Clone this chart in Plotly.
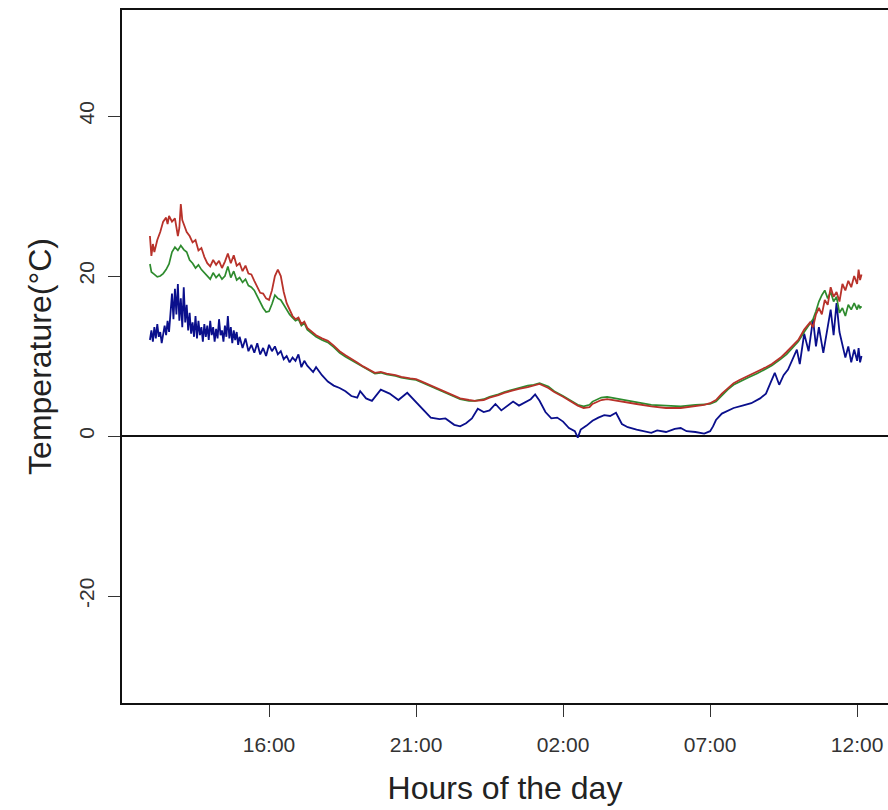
import plotly.graph_objects as go

# ---- Data (hours since midnight of day 1; values > 24 are the next day) ----
red_hours = [11.95, 12.0, 12.05, 12.1, 12.2, 12.3, 12.4, 12.5, 12.55, 12.6, 12.7, 12.8, 12.9, 12.95,
             13.0, 13.05, 13.1, 13.2, 13.3, 13.4, 13.5, 13.6, 13.7, 13.8, 13.9, 14.0, 14.1, 14.2,
             14.3, 14.4, 14.5, 14.6, 14.7, 14.8, 14.9, 15.0, 15.1, 15.2, 15.3, 15.4, 15.5, 15.6,
             15.7, 15.8, 15.9, 16.0, 16.1, 16.2, 16.3, 16.4, 16.5, 16.6, 16.7, 16.8, 16.9, 17.0,
             17.1, 17.2, 17.3, 17.4, 17.5, 17.6, 17.8, 18.0, 18.2, 18.4, 18.6, 18.8, 19.0, 19.2,
             19.4, 19.6, 19.8, 20.0, 20.3, 20.5, 20.8, 21.0, 21.2, 21.5, 21.8, 22.0, 22.3, 22.5,
             22.8, 23.0, 23.3, 23.5, 23.8, 24.0, 24.3, 24.5, 24.8, 25.0, 25.2, 25.5, 25.7, 26.0,
             26.3, 26.5, 26.7, 26.9, 27.0, 27.3, 27.5, 27.8, 28.0, 28.5, 29.0, 29.5, 30.0, 30.5,
             30.8, 31.0, 31.2, 31.4, 31.6, 31.8, 32.0, 32.3, 32.6, 32.9, 33.1, 33.4, 33.6, 33.8,
             34.0, 34.2, 34.4, 34.5, 34.6, 34.7, 34.8, 34.9, 35.0, 35.1, 35.2, 35.3, 35.4, 35.5,
             35.6, 35.7, 35.8, 35.9, 36.0, 36.05, 36.1, 36.15]
red_temp = [25.0, 22.5, 24.0, 23.0, 24.5, 25.5, 26.8, 27.3, 26.5, 27.5, 26.8, 27.2, 25.0, 26.0,
            29.0, 27.0, 26.5, 25.5, 25.0, 24.2, 24.5, 23.2, 23.5, 22.4, 21.6, 21.2, 22.0, 21.4,
            21.9, 21.0, 21.8, 22.8, 21.6, 22.6, 21.3, 21.6, 20.6, 21.3, 20.3, 20.2, 19.4, 18.6,
            17.9, 17.8, 17.2, 17.0, 18.2, 20.0, 20.8, 20.0, 18.0, 16.6, 15.8, 15.0, 14.6, 14.8,
            14.0, 14.3, 13.5, 13.2, 12.9, 12.6, 12.2, 11.9, 11.3, 10.6, 10.1, 9.7, 9.2, 8.7,
            8.3, 7.9, 8.0, 7.8, 7.6, 7.4, 7.2, 7.1, 6.8, 6.3, 5.9, 5.5, 5.0, 4.7,
            4.5, 4.4, 4.5, 4.8, 5.1, 5.4, 5.7, 5.9, 6.1, 6.3, 6.5, 6.0, 5.5, 4.9,
            4.2, 3.8, 3.5, 3.6, 4.0, 4.5, 4.6, 4.4, 4.3, 4.0, 3.7, 3.5, 3.5, 3.7,
            3.9, 4.1, 4.5, 5.3, 6.0, 6.6, 7.0, 7.5, 8.0, 8.6, 9.0, 9.8, 10.5, 11.2,
            12.0, 13.3, 14.2, 13.6, 15.2, 16.0, 15.2, 17.0, 16.4, 18.6, 17.4, 18.0, 16.8, 19.0,
            18.2, 19.4, 18.6, 20.0, 19.0, 20.8, 19.5, 20.2]

green_hours = [11.95, 12.0, 12.1, 12.2, 12.3, 12.4, 12.5, 12.6, 12.7, 12.8, 12.9, 13.0, 13.1, 13.2,
               13.3, 13.4, 13.5, 13.6, 13.7, 13.8, 13.9, 14.0, 14.1, 14.2, 14.3, 14.4, 14.5, 14.6,
               14.7, 14.8, 14.9, 15.0, 15.1, 15.2, 15.3, 15.4, 15.5, 15.6, 15.7, 15.8, 15.9, 16.0,
               16.1, 16.2, 16.3, 16.4, 16.5, 16.6, 16.7, 16.8, 16.9, 17.0, 17.1, 17.2, 17.3, 17.4,
               17.5, 17.6, 17.8, 18.0, 18.2, 18.4, 18.6, 18.8, 19.0, 19.2, 19.4, 19.6, 19.8, 20.0,
               20.3, 20.5, 20.8, 21.0, 21.2, 21.5, 21.8, 22.0, 22.3, 22.5, 22.8, 23.0, 23.3, 23.5,
               23.8, 24.0, 24.3, 24.5, 24.8, 25.0, 25.2, 25.5, 25.7, 26.0, 26.3, 26.5, 26.7, 26.9,
               27.0, 27.3, 27.5, 27.8, 28.0, 28.5, 29.0, 29.5, 30.0, 30.5, 30.8, 31.0, 31.2, 31.4,
               31.6, 31.8, 32.0, 32.3, 32.6, 32.9, 33.1, 33.4, 33.6, 33.8, 34.0, 34.2, 34.4, 34.5,
               34.6, 34.7, 34.8, 34.9, 35.0, 35.1, 35.2, 35.3, 35.4, 35.5, 35.6, 35.7, 35.8, 35.9,
               36.0, 36.05, 36.1, 36.15]
green_temp = [21.5, 20.5, 20.2, 19.9, 20.0, 20.3, 20.8, 21.5, 23.0, 23.6, 23.2, 23.8, 23.3, 23.0,
              22.0, 21.6, 21.0, 21.4, 20.8, 20.4, 20.0, 19.6, 20.4, 19.8, 20.2, 19.6, 20.0, 21.2,
              19.8, 20.6, 19.5, 19.8, 19.2, 19.6, 18.8, 18.6, 18.2, 17.4, 16.6, 16.0, 15.5, 15.6,
              16.5, 17.6, 17.2, 17.0, 16.4, 15.8, 15.2, 14.8, 14.4, 14.6, 13.8, 14.1, 13.3, 13.0,
              12.7, 12.4, 12.0, 11.7, 11.1, 10.4, 9.9, 9.5, 9.0, 8.6, 8.2, 7.8, 7.9, 7.7,
              7.5, 7.3, 7.1, 7.0, 6.7, 6.2, 5.8, 5.4, 4.9, 4.6, 4.4, 4.4, 4.6, 4.9,
              5.2, 5.5, 5.8, 6.0, 6.3, 6.4, 6.6, 6.2, 5.6, 5.0, 4.3, 3.9, 3.7, 3.9,
              4.3, 4.8, 4.9, 4.7, 4.5, 4.2, 3.9, 3.8, 3.7, 3.9, 4.0, 4.0, 4.3, 5.1,
              5.8, 6.4, 6.8, 7.3, 7.8, 8.4, 8.8, 9.6, 10.2, 11.0, 11.8, 13.0, 14.0, 14.6,
              15.6, 16.8, 17.6, 18.2, 17.2, 18.0, 16.8, 17.4, 15.4, 16.0, 15.0, 16.4, 15.8, 16.6,
              15.8, 16.4, 16.0, 16.2]

blue_hours = [11.95, 12.0, 12.05, 12.1, 12.15, 12.2, 12.25, 12.3, 12.35, 12.4, 12.45, 12.5, 12.55,
              12.6, 12.65, 12.7, 12.75, 12.8, 12.85, 12.9, 12.95, 13.0, 13.05, 13.1, 13.15, 13.2,
              13.25, 13.3, 13.35, 13.4, 13.45, 13.5, 13.55, 13.6, 13.65, 13.7, 13.75, 13.8, 13.85,
              13.9, 13.95, 14.0, 14.05, 14.1, 14.15, 14.2, 14.25, 14.3, 14.35, 14.4, 14.45, 14.5,
              14.55, 14.6, 14.65, 14.7, 14.75, 14.8, 14.85, 14.9, 14.95, 15.0, 15.1, 15.2, 15.3,
              15.4, 15.5, 15.6, 15.7, 15.8, 15.9, 16.0, 16.1, 16.2, 16.3, 16.4, 16.5, 16.6, 16.7,
              16.8, 16.9, 17.0, 17.1, 17.2, 17.3, 17.4, 17.5, 17.6, 17.8, 18.0, 18.2, 18.4, 18.6,
              18.8, 19.0, 19.1, 19.3, 19.5, 19.8, 20.1, 20.4, 20.7, 21.0, 21.2, 21.5, 21.8, 22.0,
              22.3, 22.5, 22.7, 22.9, 23.1, 23.3, 23.5, 23.7, 23.9, 24.1, 24.3, 24.5, 24.7, 24.9,
              25.05, 25.2, 25.4, 25.6, 25.8, 26.0, 26.2, 26.4, 26.5, 26.6, 26.8, 27.0, 27.2, 27.4,
              27.6, 27.8, 28.0, 28.2, 28.5, 28.8, 29.0, 29.2, 29.5, 29.8, 30.0, 30.2, 30.5, 30.8,
              31.0, 31.1, 31.2, 31.4, 31.6, 31.8, 32.1, 32.4, 32.7, 32.9, 33.05, 33.2, 33.35, 33.5,
              33.65, 33.8, 33.95, 34.05, 34.2, 34.35, 34.5, 34.6, 34.7, 34.85, 35.0, 35.1, 35.2,
              35.3, 35.4, 35.5, 35.6, 35.7, 35.8, 35.9, 36.0, 36.05, 36.1, 36.15]
blue_temp = [12.0, 13.2, 11.8, 13.6, 12.2, 14.0, 12.4, 13.0, 11.6, 12.8, 13.8, 12.6, 14.4,
             13.0, 15.6, 17.8, 14.6, 18.4, 15.2, 19.0, 14.4, 17.2, 13.6, 18.6, 14.2, 16.4,
             13.2, 15.4, 12.8, 14.2, 12.4, 15.0, 12.2, 14.4, 12.6, 13.6, 11.8, 14.0, 12.4,
             13.8, 12.0, 14.4, 12.6, 13.6, 11.8, 13.4, 12.2, 14.6, 12.6, 13.2, 11.8, 13.8,
             12.4, 15.0, 12.2, 13.6, 11.6, 13.2, 12.0, 13.0, 11.4, 12.4, 11.0, 12.2, 10.6,
             11.4, 10.4, 11.6, 10.2, 11.0, 10.0, 11.4, 10.6, 11.2, 10.2, 10.6, 9.6, 10.0, 9.2,
             9.8, 9.4, 10.2, 8.6, 9.4, 8.8, 8.4, 8.0, 8.6, 7.6, 6.8, 6.3, 6.0, 5.6,
             5.0, 4.8, 5.6, 4.7, 4.4, 5.8, 5.3, 4.5, 5.4, 4.2, 3.4, 2.3, 2.1, 2.2,
             1.4, 1.2, 1.6, 2.2, 3.4, 3.0, 3.2, 4.0, 3.2, 3.8, 4.3, 3.8, 4.2, 4.6,
             5.2, 4.4, 3.0, 2.2, 2.3, 1.8, 1.0, 0.6, -0.2, 0.8, 1.3, 1.9, 2.3, 2.6,
             2.5, 2.9, 1.5, 1.1, 0.8, 0.6, 0.4, 0.7, 0.5, 0.9, 1.0, 0.6, 0.5, 0.3,
             0.6, 1.2, 2.0, 2.8, 3.2, 3.5, 3.8, 4.1, 4.7, 5.3, 6.6, 7.9, 6.4, 7.6,
             8.3, 9.5, 10.8, 9.0, 12.8, 10.6, 14.6, 11.2, 13.6, 10.4, 13.8, 15.8, 12.6,
             16.6, 13.0, 11.4, 9.8, 11.2, 9.2, 10.8, 9.4, 11.0, 9.2, 10.0]

tick_hours = [16, 21, 26, 31, 36]
tick_labels = ["16:00", "21:00", "02:00", "07:00", "12:00"]
temp_ticks = [-20, 0, 20, 40]
temp_tick_labels = ["-20", "0", "20", "40"]

fig = go.Figure()
fig.add_trace(go.Scatter(x=blue_hours, y=blue_temp, mode="lines",
                         line=dict(color="#0A0F8C", width=1.8), showlegend=False))
fig.add_trace(go.Scatter(x=green_hours, y=green_temp, mode="lines",
                         line=dict(color="#2E8B2E", width=1.7), showlegend=False))
fig.add_trace(go.Scatter(x=red_hours, y=red_temp, mode="lines",
                         line=dict(color="#B8322A", width=1.8), showlegend=False))

font_family = "Liberation Sans, Arial, sans-serif"
fig.update_layout(
    width=888, height=810,
    margin=dict(l=122, r=0, t=10, b=107),
    plot_bgcolor="white", paper_bgcolor="white",
    font=dict(family=font_family, color="#222"),
    xaxis=dict(
        range=[11.0, 37.05], tickmode="array", tickvals=tick_hours, ticktext=tick_labels,
        ticks="outside", ticklen=12, tickwidth=1.3, tickcolor="#333",
        showline=True, linecolor="#111", linewidth=1.5, mirror=True,
        showgrid=False, zeroline=False, automargin=False,
        tickfont=dict(size=21, color="#333"), ticklabelstandoff=10,
        title=dict(text="Hours of the day", font=dict(size=32, color="#222"), standoff=22),
    ),
    yaxis=dict(
        range=[-33.375, 53.25], tickmode="array", tickvals=temp_ticks, ticktext=temp_tick_labels,
        tickangle=-90, ticks="outside", ticklen=12, tickwidth=1.3, tickcolor="#333",
        showline=True, linecolor="#111", linewidth=1.5, mirror=False,
        showgrid=False, zeroline=True, zerolinecolor="#111", zerolinewidth=1.5,
        automargin=False,
        tickfont=dict(size=21, color="#333"), ticklabelstandoff=6,
        title=dict(text="Temperature(°C)", font=dict(size=32, color="#222"), standoff=14),
    ),
)

fig.write_html("out.html")
